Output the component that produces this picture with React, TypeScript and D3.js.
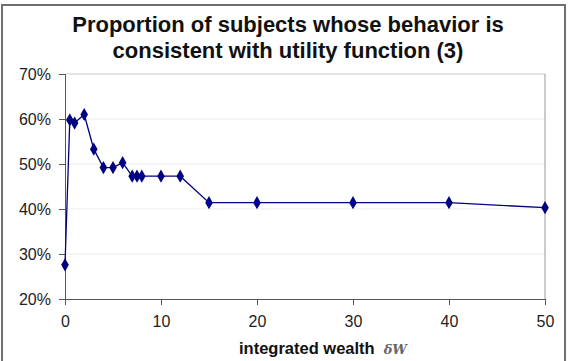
import { useEffect, useRef } from "react"
import * as d3 from "d3"

const wealth = [0, 0.5, 1, 2, 3, 4, 5, 6, 7, 7.5, 8, 10, 12, 15, 20, 30, 40, 50]
const proportion = [
  0.276, 0.598, 0.591, 0.61, 0.533, 0.492, 0.492, 0.503, 0.473, 0.473, 0.473, 0.473, 0.473,
  0.414, 0.414, 0.414, 0.414, 0.403,
]
const xTicks = [0, 10, 20, 30, 40, 50]
const yTicks = [0.2, 0.3, 0.4, 0.5, 0.6, 0.7]

const W = 569
const H = 361
const PLOT = { left: 65, right: 545, top: 74, bottom: 299 }

export default function App() {
  const svgRef = useRef<SVGSVGElement>(null)

  useEffect(() => {
    if (!svgRef.current) return
    const svg = d3.select(svgRef.current)
    svg.selectAll("*").remove()

    const font = "Arial, 'Liberation Sans', sans-serif"

    // outer frame
    svg.append("rect").attr("width", W).attr("height", H).attr("fill", "#fff")
    svg.append("rect")
      .attr("x", 2).attr("y", 5).attr("width", 563).attr("height", 360)
      .attr("fill", "none").attr("stroke", "#6f6f6f").attr("stroke-width", 2)

    const x = d3.scaleLinear().domain([0, 50]).range([PLOT.left, PLOT.right])
    const y = d3.scaleLinear().domain([0.2, 0.7]).range([PLOT.bottom, PLOT.top])

    // gridlines
    svg.append("g")
      .selectAll("line")
      .data(yTicks.slice(1))
      .join("line")
      .attr("x1", PLOT.left).attr("x2", PLOT.right)
      .attr("y1", (d) => y(d)).attr("y2", (d) => y(d))
      .attr("stroke", (d) => (d === 0.7 ? "#c8c8c8" : "#ececec"))
      .attr("stroke-width", 1)

    // right border of plot area
    svg.append("line")
      .attr("x1", PLOT.right).attr("x2", PLOT.right)
      .attr("y1", PLOT.top).attr("y2", PLOT.bottom)
      .attr("stroke", "#9a9a9a")

    // y axis
    const yAxis = svg.append("g")
      .attr("transform", `translate(${PLOT.left},0)`)
      .call(d3.axisLeft(y).tickValues(yTicks).tickFormat(d3.format(".0%")).tickSize(6).tickPadding(8))
    yAxis.select(".domain").attr("stroke", "#555")
    yAxis.selectAll(".tick line").attr("stroke", "#555")
    yAxis.selectAll("text").attr("font-family", font).attr("font-size", 16).attr("fill", "#222")

    // x axis
    const xAxis = svg.append("g")
      .attr("transform", `translate(0,${PLOT.bottom})`)
      .call(d3.axisBottom(x).tickValues(xTicks).tickSize(6).tickPadding(11).tickSizeOuter(6))
    xAxis.select(".domain").attr("stroke", "#555")
    xAxis.selectAll(".tick line").attr("stroke", "#555")
    xAxis.selectAll("text").attr("font-family", font).attr("font-size", 16).attr("fill", "#222")

    // line
    const pts = wealth.map((w, i) => [w, proportion[i]] as [number, number])
    const line = d3.line<[number, number]>().x((d) => x(d[0])).y((d) => y(d[1]))
    svg.append("path")
      .datum(pts)
      .attr("fill", "none")
      .attr("stroke", "#000080")
      .attr("stroke-width", 1.3)
      .attr("d", line)

    const diamond = d3.symbol().type(d3.symbolDiamond).size(50)
    svg.append("g")
      .selectAll("path")
      .data(pts)
      .join("path")
      .attr("transform", (d) => `translate(${x(d[0])},${y(d[1])})`)
      .attr("d", diamond)
      .attr("fill", "#000080")

    // title
    const title = svg.append("text")
      .attr("text-anchor", "middle")
      .attr("font-family", font).attr("font-size", 22).attr("font-weight", "bold").attr("fill", "#111")
    title.append("tspan").attr("x", 288).attr("y", 32).text("Proportion of subjects whose behavior is")
    title.append("tspan").attr("x", 288).attr("y", 58).text("consistent with utility function (3)")

    // x axis title
    const xt = svg.append("text")
      .attr("x", 239).attr("y", 354).attr("text-anchor", "start")
      .attr("font-family", font).attr("font-size", 16.5).attr("font-weight", "bold").attr("fill", "#111")
    xt.append("tspan").text("integrated wealth")
    xt.append("tspan")
      .attr("dx", 9)
      .attr("font-size", 13)
      .attr("font-style", "italic").attr("fill", "#666").attr("font-family", "'DejaVu Serif', serif")
      .text("δW")
  }, [])

  return (
    <svg ref={svgRef} width={W} height={H} style={{ position: "absolute", left: 0, top: 0 }} />
  )
}
